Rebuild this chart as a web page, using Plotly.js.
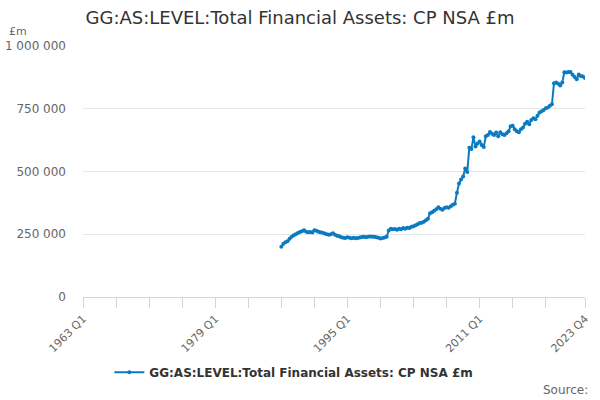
<!DOCTYPE html>
<html>
<head>
<meta charset="utf-8">
<script src="https://cdn.plot.ly/plotly-3.0.1.min.js"></script>
<style>
  html, body { margin: 0; padding: 0; background: #ffffff; }
  #chart { width: 600px; height: 400px; }
</style>
</head>
<body>
<div id="chart"></div>
<script>
// quarters from 1963 Q1 to 2023 Q4, series only starts in 1987
const firstYear = 1963;
const lastYear = 2023;
const quarters = [];
for (let y = firstYear; y <= lastYear; y++) {
  for (let q = 1; q <= 4; q++) quarters.push(`${y} Q${q}`);
}

// values in £m, 1987 Q1 .. 2023 Q4
const seriesStart = "1987 Q1";
const assets = [
  200000, 212000, 218000, 222000,
  232000, 240000, 246000, 250000,
  255000, 259000, 262000, 266000,
  260000, 258000, 259000, 257000,
  266000, 264000, 260000, 258000,
  256000, 253000, 250000, 248000,
  250000, 254000, 248000, 244000,
  242000, 238000, 236000, 235000,
  238000, 236000, 234000, 236000,
  234000, 235000, 237000, 239000,
  240000, 238000, 240000, 241000,
  240000, 240000, 238000, 236000,
  233000, 235000, 237000, 240000,
  265000, 272000, 270000, 271000,
  268000, 272000, 270000, 275000,
  272000, 276000, 275000, 280000,
  282000, 286000, 290000, 295000,
  296000, 300000, 306000, 312000,
  334000, 338000, 344000, 350000,
  358000, 352000, 348000, 355000,
  358000, 356000, 362000, 368000,
  372000, 415000, 452000, 468000,
  480000, 512000, 498000, 595000,
  590000, 636000, 600000, 612000,
  620000, 606000, 598000, 640000,
  645000, 657000, 650000, 645000,
  655000, 640000, 656000, 648000,
  645000, 652000, 660000, 680000,
  682000, 668000, 660000, 656000,
  668000, 675000, 690000, 698000,
  688000, 705000, 712000, 708000,
  722000, 735000, 740000, 745000,
  752000, 755000, 762000, 768000,
  852000, 855000, 850000, 843000,
  855000, 895000, 894000, 896000,
  896000, 885000, 876000, 868000,
  886000, 880000, 878000, 873000
];

const tickLabels = ["1963 Q1", "1979 Q1", "1995 Q1", "2011 Q1", "2023 Q4"];
const yTicks = [0, 250000, 500000, 750000, 1000000];
const seriesName = "GG:AS:LEVEL:Total Financial Assets: CP NSA £m";

const startIdx = quarters.indexOf(seriesStart);
const yValues = quarters.map((_, i) =>
  i >= startIdx && i - startIdx < assets.length ? assets[i - startIdx] : null
);

// a tick every 16 quarters plus the final quarter, labels only on some
const tickVals = [];
for (let i = 0; i < quarters.length - 16; i += 16) tickVals.push(quarters[i]);
tickVals.push(quarters[quarters.length - 1]);
const tickText = tickVals.map((v) => (tickLabels.includes(v) ? v : ""));

const font = "DejaVu Sans, sans-serif";

const data = [
  {
    type: "scatter",
    mode: "lines+markers",
    name: seriesName,
    x: quarters,
    y: yValues,
    line: { color: "#0b7bc1", width: 2 },
    marker: { color: "#0b7bc1", size: 4 },
    connectgaps: false,
  },
];

const layout = {
  width: 600,
  height: 400,
  paper_bgcolor: "#ffffff",
  plot_bgcolor: "#ffffff",
  margin: { l: 83, r: 15, t: 46, b: 103 },
  font: { family: font, color: "#666666", size: 11 },
  title: {
    text: seriesName,
    font: { family: font, size: 18, color: "#333333" },
    x: 0.5,
    xanchor: "center",
    xref: "container",
    y: 0.955,
    yanchor: "middle",
  },
  separators: ". ",
  xaxis: {
    type: "category",
    range: [0, quarters.length - 1],
    tickmode: "array",
    tickvals: tickVals,
    ticktext: tickText,
    tickangle: -45,
    ticks: "outside",
    ticklen: 10,
    tickcolor: "#ccd6eb",
    tickwidth: 1,
    showline: true,
    linecolor: "#ccd6eb",
    linewidth: 1,
    showgrid: false,
    zeroline: false,
    tickfont: { family: font, size: 11, color: "#666666" },
  },
  yaxis: {
    range: [0, 1000000],
    tickmode: "array",
    tickvals: yTicks,
    tickformat: ",d",
    showgrid: true,
    gridcolor: "#e6e6e6",
    zeroline: false,
    showline: false,
    ticks: "",
    ticklabelstandoff: 16,
    tickfont: { family: font, size: 12, color: "#666666" },
  },
  showlegend: true,
  legend: {
    orientation: "h",
    x: 0.42,
    xanchor: "center",
    y: -0.3,
    yanchor: "middle",
    font: { family: font, size: 12, color: "#333333", weight: "bold" },
  },
  annotations: [
    {
      text: "£m",
      xref: "paper",
      yref: "paper",
      x: -0.152,
      y: 1.056,
      xanchor: "left",
      yanchor: "middle",
      showarrow: false,
      font: { family: font, size: 11, color: "#666666" },
    },
    {
      text: "Source:",
      xref: "paper",
      yref: "paper",
      x: 1.01,
      y: -0.37,
      xanchor: "right",
      yanchor: "middle",
      showarrow: false,
      font: { family: font, size: 12, color: "#666666" },
    },
  ],
};

Plotly.newPlot("chart", data, layout, { staticPlot: true, displayModeBar: false });
</script>
</body>
</html>
